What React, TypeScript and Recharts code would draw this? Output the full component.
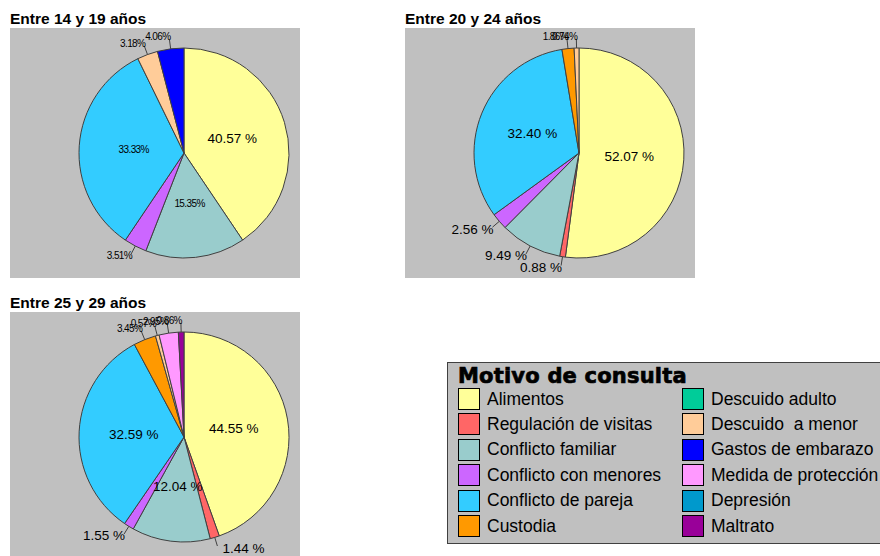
import React from "react";
import { PieChart, Pie, Cell } from "recharts";

const categories = [
  "Alimentos",
  "Regulación de visitas",
  "Conflicto familiar",
  "Conflicto con menores",
  "Conflicto de pareja",
  "Custodia",
  "Descuido adulto",
  "Descuido  a menor",
  "Gastos de embarazo",
  "Medida de protección",
  "Depresión",
  "Maltrato",
];

const colors = [
  "#FFFF99",
  "#FF6666",
  "#99CCCC",
  "#CC66FF",
  "#33CCFF",
  "#FF9900",
  "#00CC99",
  "#FFCC99",
  "#0000FF",
  "#FF99FF",
  "#0099CC",
  "#990099",
];

// percent per category, same order as categories (0 = not present)
const values14a19 = [40.57, 0, 15.35, 3.51, 33.33, 0, 0, 3.18, 4.06, 0, 0, 0];
const values20a24 = [52.07, 0.88, 9.49, 2.56, 32.4, 1.86, 0, 0.74, 0, 0, 0, 0];
const values25a29 = [44.55, 1.44, 12.04, 1.55, 32.59, 3.45, 0, 0.57, 0, 2.95, 0, 0.86];

const titles = ["Entre 14 y 19 años", "Entre 20 y 24 años", "Entre 25 y 29 años"];

const FONT = "'Liberation Sans', Arial, sans-serif";
const RAD = Math.PI / 180;

function toData(values: number[]) {
  return values
    .map((v, i) => ({ name: categories[i], value: v, color: colors[i] }))
    .filter((d) => d.value > 0);
}

function makeLabel(compact: boolean) {
  return (p: any) => {
    const { cx, cy, midAngle, outerRadius, value } = p;
    const cos = Math.cos(-midAngle * RAD);
    const sin = Math.sin(-midAngle * RAD);
    const inside = value >= 10;
    // small condensed labels: whole first chart (except biggest) and outside labels above the pie
    const tiny = (compact && value < 40) || (!inside && sin < 0);
    const text = tiny ? `${value.toFixed(2)}%` : `${value.toFixed(2)} %`;
    const style = {
      fontFamily: FONT,
      fontSize: tiny ? 10 : 13.5,
      letterSpacing: tiny ? -0.6 : 0,
    };
    if (inside) {
      const r = outerRadius * 0.48;
      return (
        <text x={cx + r * cos} y={cy + r * sin} textAnchor="middle" dominantBaseline="central" fill="#000" style={style}>
          {text}
        </text>
      );
    }
    const sx = cx + outerRadius * cos;
    const sy = cy + outerRadius * sin;
    const ex = cx + (outerRadius + 9) * cos;
    const ey = cy + (outerRadius + 9) * sin;
    const left = cos < 0;
    return (
      <g>
        <line x1={sx} y1={sy} x2={ex} y2={ey} stroke="#404040" strokeWidth={1} />
        <text
          x={ex + (left ? 1 : 5)}
          y={ey + (sin > 0 ? 2 : -3)}
          textAnchor={left ? "end" : "start"}
          dominantBaseline="central"
          fill="#000"
          style={style}
        >
          {text}
        </text>
      </g>
    );
  };
}

function AgePie({ values, left, top, height, compact }: { values: number[]; left: number; top: number; height: number; compact: boolean }) {
  const data = toData(values);
  return (
    <div style={{ position: "absolute", left, top, width: 290, height, background: "#C0C0C0" }}>
      <PieChart width={290} height={height} margin={{ top: 0, right: 0, bottom: 0, left: 0 }}>
        <Pie
          data={data}
          dataKey="value"
          nameKey="name"
          cx={174}
          cy={125}
          outerRadius={105}
          startAngle={90}
          endAngle={-270}
          stroke="#404040"
          strokeWidth={1}
          label={makeLabel(compact)}
          labelLine={false}
          isAnimationActive={false}
        >
          {data.map((d) => (
            <Cell key={d.name} fill={d.color} />
          ))}
        </Pie>
      </PieChart>
    </div>
  );
}

function Title({ text, left, top }: { text: string; left: number; top: number }) {
  return (
    <div style={{ position: "absolute", left, top, fontFamily: FONT, fontWeight: "bold", fontSize: 15.5, lineHeight: "15px", whiteSpace: "nowrap" }}>
      {text}
    </div>
  );
}

function Legend() {
  const half = 6;
  return (
    <div
      style={{
        position: "absolute",
        left: 447,
        top: 362,
        width: 460,
        height: 182,
        background: "#C0C0C0",
        border: "1px solid #404040",
        boxSizing: "border-box",
      }}
    >
      <div
        style={{
          position: "absolute",
          left: 10,
          top: 1,
          fontFamily: "'DejaVu Sans', sans-serif",
          fontWeight: 900,
          fontSize: 21,
          lineHeight: "24px",
          letterSpacing: 0.2,
          WebkitTextStroke: "0.7px #000",
          whiteSpace: "nowrap",
        }}
      >
        Motivo de consulta
      </div>
      {categories.map((c, i) => {
        const col = Math.floor(i / half);
        const row = i % half;
        const x = col === 0 ? 10 : 234;
        const y = 25 + row * 25.4;
        return (
          <div key={c} style={{ position: "absolute", left: x, top: y, height: 22, display: "flex", alignItems: "center" }}>
            <div style={{ width: 20, height: 20, background: colors[i], border: "1px solid #000" }} />
            <div style={{ marginLeft: 7, fontFamily: FONT, fontSize: 17.5, whiteSpace: "pre", color: "#000" }}>{c}</div>
          </div>
        );
      })}
    </div>
  );
}

export default function App() {
  return (
    <div style={{ position: "absolute", left: 0, top: 0, width: 880, height: 556, background: "#fff", overflow: "hidden" }}>
      <Title text={titles[0]} left={10} top={11} />
      <Title text={titles[1]} left={405} top={11} />
      <Title text={titles[2]} left={10} top={295} />
      <AgePie values={values14a19} left={10} top={28} height={250} compact={true} />
      <AgePie values={values20a24} left={405} top={28} height={250} compact={false} />
      <AgePie values={values25a29} left={10} top={312} height={244} compact={false} />
      <Legend />
    </div>
  );
}
